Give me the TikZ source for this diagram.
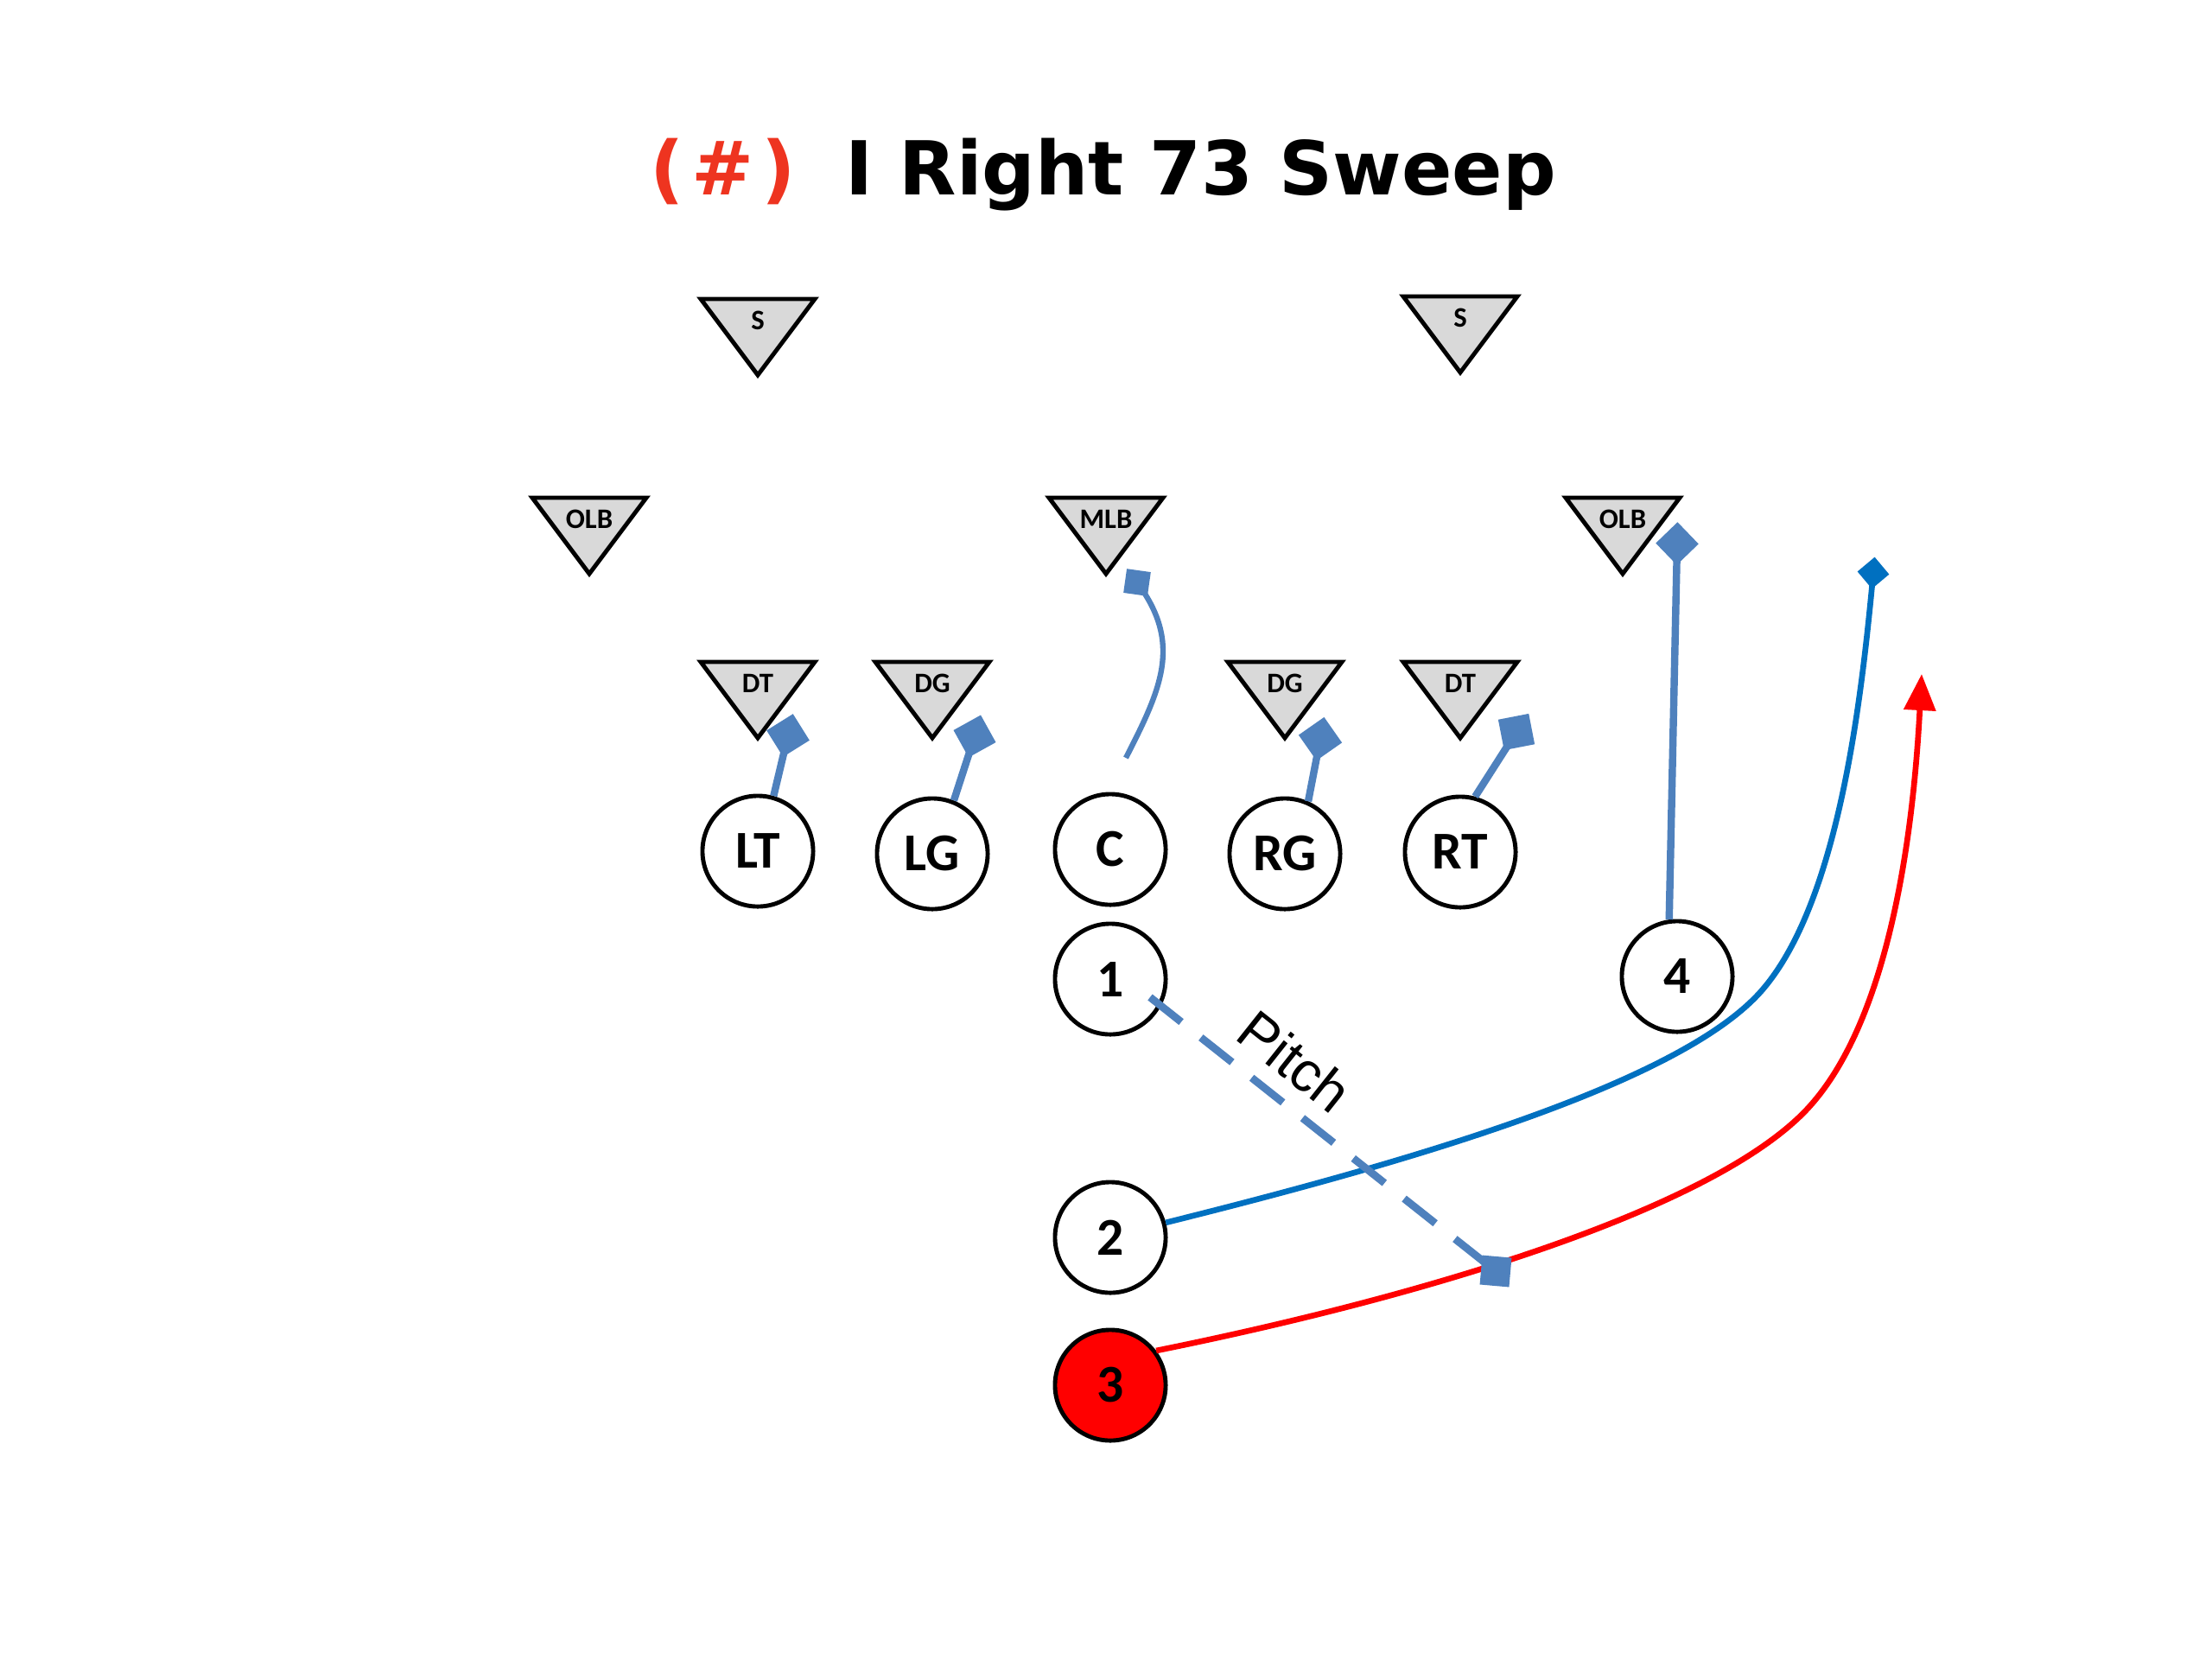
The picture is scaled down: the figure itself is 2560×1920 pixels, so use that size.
\documentclass[tikz,border=0pt]{standalone}
\usepackage{fontspec}
\setmainfont{Carlito}
\newfontfamily\titlefont{DejaVu Sans}
\newfontfamily\arialfont{Liberation Sans}
\usetikzlibrary{arrows.meta}
\definecolor{triGray}{RGB}{217,217,217}
\definecolor{blkBlue}{RGB}{79,129,189}
\definecolor{routeBlue}{RGB}{0,112,192}
\definecolor{routeRed}{RGB}{255,0,0}
\definecolor{titleRed}{RGB}{238,52,32}
\newcommand\deftri[4]{%
  \draw[tri] (#2-66,#3) -- (#2+66,#3) -- (#2,#3+88) -- cycle;
  \node[trilab] (#1) at (#2,#3+25) {#4};}
\begin{document}
\begin{tikzpicture}[x=0.01cm,y=-0.01cm,
  tri/.style={draw=black, fill=triGray, line width=1.4pt},
  trilab/.style={font=\fontsize{9.3}{10}\selectfont\bfseries, inner sep=0pt},
  off/.style={circle, draw=black, fill=white, line width=1.4pt, minimum size=1.28cm, inner sep=0pt, font=\fontsize{17.5}{19}\selectfont\bfseries},
  blk/.style={draw=blkBlue, line width=2.4pt},
  blksq/.style={rectangle, fill=blkBlue, minimum size=0.36cm, inner sep=0pt},
  route2/.style={draw=routeBlue, line width=1.9pt},
  route3/.style={draw=routeRed, line width=1.9pt, -{Triangle[length=4.2mm,width=3.6mm]}},
  pitchln/.style={draw=blkBlue, line width=2.5pt, dash pattern=on 0.46cm off 0.29cm},
  ttl/.style={font=\titlefont\fontsize{24.5}{29}\selectfont\bfseries, inner sep=0pt, anchor=base west}]
\useasboundingbox (0,0) rectangle (2560,1920);
\fill[white] (0,0) rectangle (2560,1920);

% title
\node[ttl, text=titleRed] (ttlnum) at (752,225) {(\kern2.5pt\#\kern2.5pt)};
\node[ttl] (ttltext) at (978,225) {I Right 73 Sweep};

% defense
\deftri{S1}{877}{346}{S}
\deftri{S2}{1690}{343}{S}
\deftri{OLB1}{682}{576}{OLB}
\deftri{MLB}{1280}{576}{MLB}
\deftri{OLB2}{1878}{576}{OLB}
\deftri{DT1}{877}{766}{DT}
\deftri{DG1}{1079}{766}{DG}
\deftri{DG2}{1487}{766}{DG}
\deftri{DT2}{1690}{766}{DT}

% offense
\node[off] (LT) at (877,985) {LT};
\node[off] (LG) at (1079,988) {LG};
\node[off] (C) at (1285,983) {C};
\node[off] (RG) at (1487,988) {RG};
\node[off] (RT) at (1690,986) {RT};
\node[off] (n1) at (1285,1133) {1};
\node[off] (n4) at (1941,1130) {4};
\node[off] (n2) at (1285,1432) {2};
\node[off, fill=routeRed] (n3) at (1285,1603) {3};

% blocks
\coordinate (bLT) at (912,851);
\coordinate (bLG) at (1128,852);
\coordinate (bRG) at (1528,855);
\coordinate (bRT) at (1755,847);
\coordinate (bC) at (1316,674);
\coordinate (bOLB) at (1941,629);
\draw[blk] (LT.74) -- (bLT);
\draw[blk] (LG.68) -- (bLG);
\draw[blk] (RG.66) -- (bRG);
\draw[blk] (RT.75) -- (bRT);
\draw[blk] (n4.98) -- (bOLB);
\draw[draw=blkBlue, line width=1.8pt] (1303,877) .. controls (1345,795) and (1368,744) .. (bC);
\node[blksq, rotate=32] (sqLT) at (bLT) {};
\node[blksq, rotate=29] (sqLG) at (bLG) {};
\node[blksq, rotate=35] (sqRG) at (bRG) {};
\node[blksq, rotate=11] (sqRT) at (bRT) {};
\node[blksq, rotate=44, minimum size=0.35cm] (sqOLB) at (bOLB) {};
\node[blksq, rotate=-8, minimum size=0.28cm] (sqC) at (bC) {};

% routes
\coordinate (r2end) at (2168,663);
\draw[route2] (n2.15) .. controls (1650,1340) and (1950,1250) .. (2040,1145)
  .. controls (2130,1040) and (2155,800) .. (r2end);
\node[rectangle, fill=routeBlue, minimum size=0.26cm, inner sep=0pt, rotate=40] (r2dia) at (r2end) {};

\coordinate (r3end) at (2224,780);
\draw[route3] (n3.37) .. controls (1650,1500) and (1980,1400) .. (2090,1285)
  .. controls (2190,1180) and (2215,950) .. (r3end);

% pitch
\coordinate (pqc) at (1731,1471);
\draw[pitchln] (n1) ++(46,21) -- (pqc);
\node[blksq, rotate=-5, minimum size=0.34cm] (pq) at (pqc) {};
\node[font=\arialfont\fontsize{18.5}{20}\selectfont, rotate=-38.4, inner sep=0pt] (pitchlab) at (1499,1228) {Pitch};
\end{tikzpicture}
\end{document}
